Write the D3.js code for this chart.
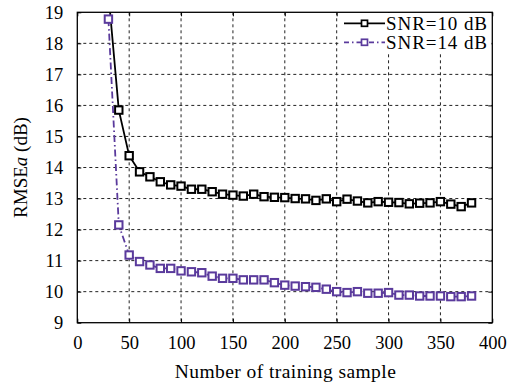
<!DOCTYPE html>
<html><head><meta charset="utf-8">
<script src="https://cdn.jsdelivr.net/npm/d3@7/dist/d3.min.js"></script>
<style>body{margin:0;background:#fff}svg{display:block}text{font-family:"Liberation Serif","Times New Roman",serif;fill:#000}</style>
</head><body><svg id="c" width="515" height="382"></svg>
<script>
const samples = [30,40,50,60,70,80,90,100,110,120,130,140,150,160,170,180,190,200,210,220,230,240,250,260,270,280,290,300,310,320,330,340,350,360,370,380];
const snr10 = [19.6,15.85,14.38,13.86,13.70,13.54,13.44,13.40,13.30,13.30,13.22,13.14,13.11,13.08,13.14,13.06,13.04,13.03,13.00,12.99,12.94,12.99,12.90,12.98,12.92,12.86,12.90,12.88,12.87,12.83,12.85,12.86,12.90,12.82,12.74,12.86];
const snr14 = [18.78,12.15,11.18,10.97,10.86,10.75,10.75,10.67,10.64,10.61,10.50,10.43,10.43,10.38,10.38,10.38,10.29,10.21,10.18,10.16,10.14,10.08,10.00,9.97,10.00,9.95,9.95,9.97,9.89,9.89,9.86,9.86,9.86,9.84,9.84,9.86];
const seriesNames = ["SNR=10 dB","SNR=14 dB"];
const xTicks = [0,50,100,150,200,250,300,350,400];
const yTicks = [9,10,11,12,13,14,15,16,17,18,19];

const svg = d3.select("#c");
const L=77.3,R=492.3,T=12.3,B=322.7;
const x = d3.scaleLinear().domain([0,400]).range([L,R]);
const y = d3.scaleLinear().domain([9,19]).range([B,T]);

svg.append("defs").append("clipPath").attr("id","clip").append("rect")
  .attr("x",L).attr("y",T).attr("width",R-L).attr("height",B-T);

// grid
const g = svg.append("g");
g.selectAll(".gx").data(xTicks.slice(1,-1)).enter().append("line")
  .attr("x1",d=>x(d)).attr("x2",d=>x(d)).attr("y1",T).attr("y2",B)
  .attr("stroke","#222").attr("stroke-width",1).attr("stroke-dasharray","3,3");
g.selectAll(".gy").data(yTicks.slice(1,-1)).enter().append("line")
  .attr("y1",d=>y(d)).attr("y2",d=>y(d)).attr("x1",L).attr("x2",R)
  .attr("stroke","#222").attr("stroke-width",1).attr("stroke-dasharray","3,3");

// axes (inward ticks)
const axB = svg.append("g").attr("transform",`translate(0,${B})`)
  .call(d3.axisBottom(x).tickValues(xTicks).tickSize(-4).tickPadding(14).tickFormat(d3.format("d")));
const axT = svg.append("g").attr("transform",`translate(0,${T})`)
  .call(d3.axisTop(x).tickValues(xTicks).tickSize(-4).tickFormat(""));
const axL = svg.append("g").attr("transform",`translate(${L},0)`)
  .call(d3.axisLeft(y).tickValues(yTicks).tickSize(-4).tickPadding(14).tickFormat(d3.format("d")));
const axR = svg.append("g").attr("transform",`translate(${R},0)`)
  .call(d3.axisRight(y).tickValues(yTicks).tickSize(-4).tickFormat(""));
[axB,axT,axL,axR].forEach(a=>{a.select(".domain").remove();a.selectAll("line").attr("stroke","#000").attr("stroke-width",1);
  a.selectAll("text").style("font-family","'Liberation Serif',serif").style("font-size","18.5px").attr("fill","#000");});
axB.selectAll("text").attr("dy","0.68em");

// series
const cols = ["#000000","#5a3a9c"];
const dashes = [null,"7,3,1.5,3"];
const data = [snr10,snr14];
const plot = svg.append("g").attr("clip-path","url(#clip)");
const line = d3.line().x((d,i)=>x(samples[i])).y(d=>y(d));
data.forEach((s,k)=>{
  plot.append("path").datum(s).attr("d",line).attr("fill","none")
    .attr("stroke",cols[k]).attr("stroke-width",1.8).attr("stroke-dasharray",dashes[k]);
});
data.forEach((s,k)=>{
  plot.selectAll(".m"+k).data(s).enter().append("rect")
    .attr("x",(d,i)=>x(samples[i])-3.7).attr("y",d=>y(d)-3.7).attr("width",7.4).attr("height",7.4)
    .attr("fill","#fff").attr("stroke",cols[k]).attr("stroke-width",2);
});

// legend
const lg = svg.append("g");
lg.append("rect").attr("x",339).attr("y",13).attr("width",152.5).attr("height",41).attr("fill","#fff");
seriesNames.forEach((n,k)=>{
  const yy = [23.3,42.3][k];
  lg.append("line").attr("x1",344).attr("x2",385).attr("y1",yy).attr("y2",yy)
    .attr("stroke",cols[k]).attr("stroke-width",1.8).attr("stroke-dasharray",k? "5,3,1.5,3":null);
  lg.append("rect").attr("x",361.5).attr("y",yy-3).attr("width",6).attr("height",6)
    .attr("fill","#fff").attr("stroke",cols[k]).attr("stroke-width",1.7);
  lg.append("text").attr("x",386).attr("y",yy+6.5).style("font-size","19px")
    .attr("textLength",101).attr("lengthAdjust","spacing").text(n);
});
// frame
svg.append("rect").attr("x",L).attr("y",T).attr("width",R-L).attr("height",B-T)
  .attr("fill","none").attr("stroke","#000").attr("stroke-width",1.3);

// titles
svg.append("text").attr("x",(L+R)/2+0.5).attr("y",378).attr("text-anchor","middle").style("font-size","19.5px")
  .attr("textLength",221).attr("lengthAdjust","spacing").text("Number of training sample");
const yt = svg.append("text").attr("transform",`translate(27,${(T+B)/2}) rotate(-90)`).attr("text-anchor","middle").style("font-size","19px");
yt.append("tspan").text("RMSE");
yt.append("tspan").attr("font-style","italic").text("a");
yt.append("tspan").text(" (dB)");
</script></body></html>
